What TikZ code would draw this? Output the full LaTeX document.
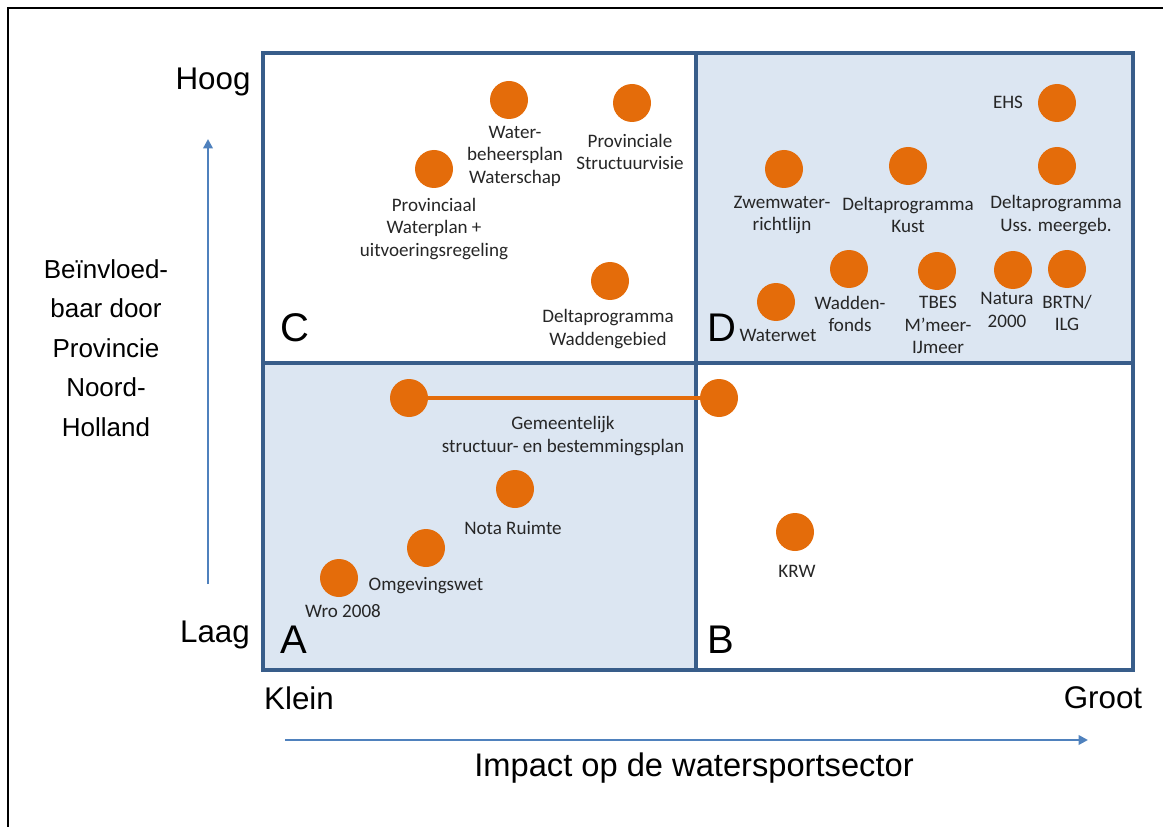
\documentclass[tikz,border=0pt]{standalone}
\usepackage{fontspec}
\setmainfont{Liberation Sans}
\newfontfamily\labelfont{Carlito}
\usepackage{tikz}
\usetikzlibrary{arrows.meta}

\definecolor{gridblue}{HTML}{385D8A}
\definecolor{quadfill}{HTML}{DCE6F2}
\definecolor{axisblue}{HTML}{4F81BD}
\definecolor{dotorange}{HTML}{E46C0A}

\begin{document}
\begin{tikzpicture}[x=0.75pt, y=-0.75pt,
        dot/.style={circle, fill=dotorange, minimum size=28.5pt, inner sep=0pt},
        lbl/.style={font=\labelfont\fontsize{14.3}{16.9}\selectfont, align=center, inner sep=0pt, text=black!85},
        quadlbl/.style={font=\fontsize{30}{30}\selectfont, inner sep=0pt},
        axlbl/.style={font=\fontsize{23.5}{28}\selectfont, inner sep=0pt},
        gridline/.style={draw=gridblue, line width=3pt},
        link/.style={dotorange, line width=2.6pt},
        axis/.style={-{Triangle[length=7pt,width=7pt]}, line width=1.8pt, axisblue}
      ]
        \useasboundingbox (0,0) rectangle (1163,827);
        \draw[line width=1.6pt] (8,827) -- (8,8) -- (1163,8);

        \fill[quadfill] (263,363) rectangle (696,670);
        \fill[quadfill] (696,53) rectangle (1133,363);
        \draw[gridline] (263,53) rectangle (1133,670);
        \draw[gridline] (696,53) -- (696,670);
        \draw[gridline] (263,363) -- (1133,363);

        \node[quadlbl] (qa) at (294,640) {A};
        \node[quadlbl] (qb) at (721,640) {B};
        \node[quadlbl] (qc) at (295,328) {C};
        \node[quadlbl] (qd) at (722,328) {D};

        \node[axlbl] (hoog) at (213,82) {Hoog};
        \node[axlbl] (laag) at (215,635) {Laag};
        \node[axlbl] (klein) at (299,698) {Klein};
        \node[axlbl] (groot) at (1103,698) {Groot};
        \node[font=\fontsize{24.5}{28}\selectfont, inner sep=0pt] (impact) at (694,768) {Impact op de watersportsector};
        \node[font=\fontsize{19.5}{29.6}\selectfont, align=center, inner sep=0pt] (invloed) at (106,348)
          {Beïnvloed-\\baar door\\Provincie\\Noord-\\Holland};

        \coordinate (ylow) at (208,584);
        \coordinate (yhigh) at (208,139);
        \coordinate (xlow) at (285,740);
        \coordinate (xhigh) at (1088,740);
        \draw[axis] (ylow) -- (yhigh);
        \draw[axis] (xlow) -- (xhigh);

        % kwadrant C
        \node[dot] (wbp) at (509,100) {};
        \node[lbl] (wbptxt) at (515,156) {Water-\\beheersplan\\Waterschap};
        \node[dot] (psv) at (632,103) {};
        \node[lbl] (psvtxt) at (630,152) {Provinciale\\Structuurvisie};
        \node[dot] (pwp) at (434,169) {};
        \node[lbl] (pwptxt) at (434,229) {Provinciaal\\Waterplan +\\uitvoeringsregeling};
        \node[dot] (dpw) at (610,281) {};
        \node[lbl] (dpwtxt) at (608,329) {Deltaprogramma\\Waddengebied};

        % kwadrant D
        \node[dot] (ehs) at (1057,103) {};
        \node[lbl] (ehstxt) at (1008,102) {EHS};
        \node[dot] (zwr) at (784,169) {};
        \node[lbl] (zwrtxt) at (782,215) {Zwemwater-\\richtlijn};
        \node[dot] (dpk) at (908,166) {};
        \node[lbl] (dpktxt) at (908,215) {Deltaprogramma\\Kust};
        \node[dot] (dpu) at (1057,166) {};
        \node[lbl] (dputxt) at (1056,215) {Deltaprogramma\\Uss. meergeb.};
        \node[dot] (wdf) at (849,269) {};
        \node[lbl] (wdftxt) at (850,314) {Wadden-\\fonds};
        \node[dot] (tbes) at (937,271) {};
        \node[lbl] (tbestxt) at (938,325) {TBES\\M’meer-\\IJmeer};
        \node[dot] (nat) at (1013,270) {};
        \node[lbl] (nattxt) at (1007,310) {Natura\\2000};
        \node[dot] (brtn) at (1067,269) {};
        \node[lbl] (brtntxt) at (1067,313) {BRTN/\\ILG};
        \node[dot] (ww) at (776,302) {};
        \node[lbl] (wwtxt) at (778,335) {Waterwet};

        % kwadrant A en B
        \draw[link] (409,398) coordinate (g1) -- (719,398) coordinate (g2);
        \node[dot] (gem1) at (g1) {};
        \node[dot] (gem2) at (g2) {};
        \node[lbl] (gemtxt) at (563,436) {Gemeentelijk\\structuur- en bestemmingsplan};
        \node[dot] (nota) at (515,489) {};
        \node[lbl] (notatxt) at (513,528) {Nota Ruimte};
        \node[dot] (omg) at (426,548) {};
        \node[lbl] (omgtxt) at (426,586) {Omgevingswet};
        \node[dot] (wro) at (339,578) {};
        \node[lbl] (wrotxt) at (343,611) {Wro 2008};
        \node[dot] (krw) at (795,532) {};
        \node[lbl] (krwtxt) at (797,571) {KRW};
      \end{tikzpicture}
\end{document}
